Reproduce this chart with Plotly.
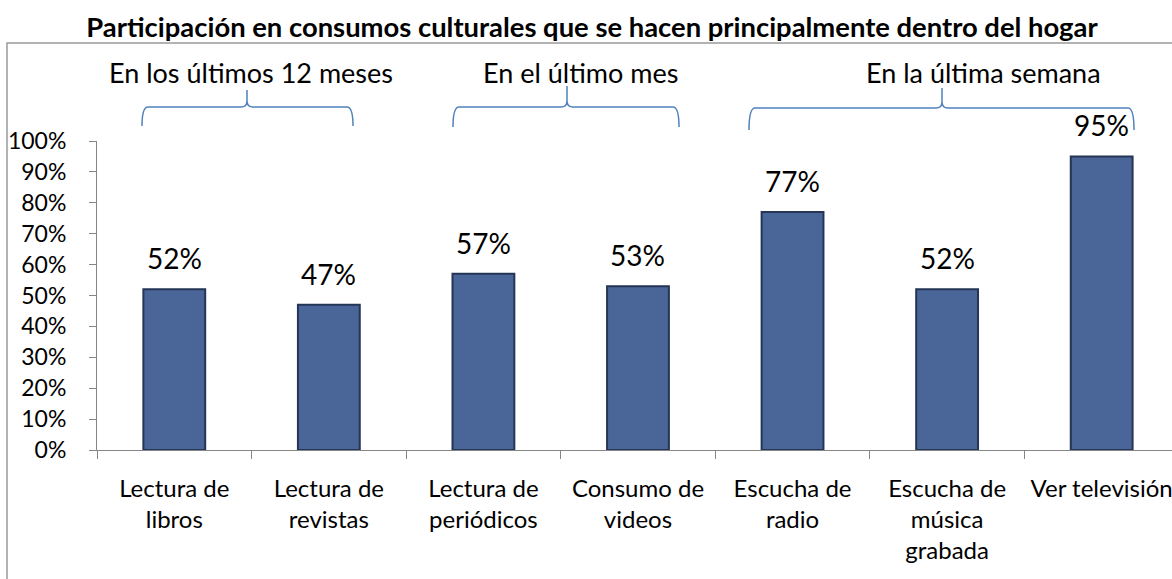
import plotly.graph_objects as go

# --- data -------------------------------------------------------------
categorias = [
    "Lectura de<br>libros",
    "Lectura de<br>revistas",
    "Lectura de<br>periódicos",
    "Consumo de<br>videos",
    "Escucha de<br>radio",
    "Escucha de<br>música<br>grabada",
    "Ver televisión",
]
porcentajes = [52, 47, 57, 53, 77, 52, 95]
periodos = ["En los últimos 12 meses", "En el último mes", "En la última semana"]

# --- layout geometry (pixels in a 1172x579 page) -----------------------
W, H = 1172, 579
L, R, T, B = 97, 0, 141, 129
FONT = "Lato, Open Sans, sans-serif"
BRACE_COLOR = "#4F81BD"


def px_x(x):
    return (x - L) / (W - L - R)


def px_y(y):
    return (H - B - y) / (H - B - T)


def brace(x0, x1, xm, yh, yb, yt, r=6):
    pts = [
        f"M{px_x(x0)},{px_y(yb)}",
        f"Q{px_x(x0)},{px_y(yh)} {px_x(x0 + r)},{px_y(yh)}",
        f"L{px_x(xm - r)},{px_y(yh)}",
        f"Q{px_x(xm)},{px_y(yh)} {px_x(xm)},{px_y(yh - r)}",
        f"L{px_x(xm)},{px_y(yt)}",
        f"L{px_x(xm)},{px_y(yh - r)}",
        f"Q{px_x(xm)},{px_y(yh)} {px_x(xm + r)},{px_y(yh)}",
        f"L{px_x(x1 - r)},{px_y(yh)}",
        f"Q{px_x(x1)},{px_y(yh)} {px_x(x1)},{px_y(yb)}",
    ]
    return dict(type="path", xref="paper", yref="paper", path=" ".join(pts),
                line=dict(color=BRACE_COLOR, width=1.5))


fig = go.Figure()
fig.add_trace(go.Bar(
    x=categorias, y=porcentajes, width=0.4,
    marker=dict(color="#4A6698", line=dict(color="#243555", width=2)),
    hoverinfo="skip",
))

for cat, val in zip(categorias, porcentajes):
    fig.add_annotation(x=cat, y=val, text=f"{val}%", showarrow=False,
                       yanchor="middle", yshift=31,
                       font=dict(size=28, color="black", family=FONT))

# period headers above the braces
for xpx, txt in zip([251, 580, 983], periodos):
    fig.add_annotation(xref="paper", yref="paper", x=px_x(xpx), y=px_y(72),
                       text=txt, showarrow=False, xanchor="center", yanchor="middle",
                       font=dict(size=27, color="black", family=FONT))

shapes = [
    brace(142, 353, 247, 107, 126, 90),
    brace(453, 679, 567, 107, 127, 86),
    brace(749, 1134, 942, 108, 130, 88),
    dict(type="rect", xref="paper", yref="paper",
         x0=px_x(7), x1=px_x(W + 20), y0=px_y(43), y1=px_y(H + 20),
         line=dict(color="#9A9A9A", width=1.5)),
]

fig.update_layout(
    width=W, height=H,
    margin=dict(l=L, r=R, t=T, b=B, autoexpand=False),
    title=dict(text="<b>Participación en consumos culturales que se hacen principalmente dentro del hogar</b>",
               x=592 / W, xanchor="center", y=1 - 27 / H, yanchor="middle",
               font=dict(size=27.4, color="black", family=FONT)),
    font=dict(family=FONT, color="black"),
    plot_bgcolor="white", paper_bgcolor="white",
    showlegend=False, shapes=shapes,
    bargap=0.6,
)
fig.update_xaxes(
    type="category", range=[-0.5, 6.455], tickson="boundaries",
    ticks="outside", ticklen=8, tickcolor="#868686",
    showline=True, linecolor="#868686", linewidth=1,
    tickfont=dict(size=24, color="black", family=FONT),
    ticklabelstandoff=17, automargin=False, fixedrange=True,
)
fig.update_yaxes(
    range=[0, 100], dtick=10, ticksuffix="%",
    ticks="outside", ticklen=7, tickcolor="#868686",
    showline=True, linecolor="#868686", linewidth=1, showgrid=False, zeroline=False,
    tickfont=dict(size=23, color="black", family=FONT),
    ticklabelstandoff=18, automargin=False, fixedrange=True,
)

fig.write_html("out.html", config={"displayModeBar": False},
               post_script="document.body.style.margin='0';")
